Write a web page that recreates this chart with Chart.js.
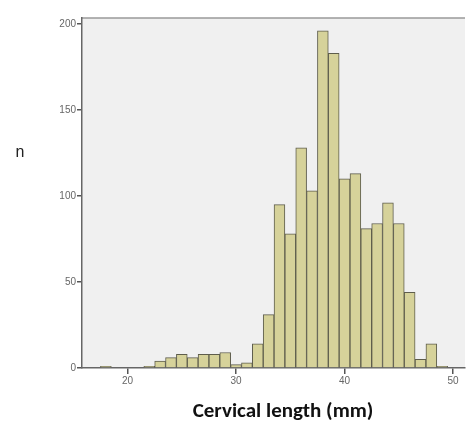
<!DOCTYPE html>
<html>
<head>
<meta charset="utf-8">
<script src="https://cdn.jsdelivr.net/npm/chart.js@4/dist/chart.umd.min.js"></script>
<style>
  html, body { margin: 0; padding: 0; background: #fff; }
  #wrap { width: 466px; height: 434px; }
</style>
</head>
<body>
<div id="wrap"><canvas id="cervix-chart"></canvas></div>
<script>
const bins = [18, 19, 20, 21, 22, 23, 24, 25, 26, 27, 28, 29, 30, 31, 32, 33,
  34, 35, 36, 37, 38, 39, 40, 41, 42, 43, 44, 45, 46, 47, 48, 49];
const counts = [1, 0, 0, 0, 1, 4, 6, 8, 6, 8, 8, 9, 2, 3, 14, 31,
  95, 78, 128, 103, 196, 183, 110, 113, 81, 84, 96, 84, 44, 5, 14, 1];
const xTicks = [20, 30, 40, 50];
const yTicks = [0, 50, 100, 150, 200];
const xTitle = "Cervical length (mm)";
const yTitle = "n";

// grey plot panel, top frame line, and the two axis titles (SPSS style)
const plotFrame = {
  id: "plotFrame",
  beforeDraw(chart) {
    const { ctx, chartArea: a } = chart;
    ctx.save();
    ctx.fillStyle = "#f0f0f0";
    ctx.fillRect(a.left, a.top, a.right - a.left, a.bottom - a.top);
    ctx.strokeStyle = "#9a9a9a";
    ctx.lineWidth = 1.5;
    ctx.beginPath();
    ctx.moveTo(a.left, a.top);
    ctx.lineTo(a.right, a.top);
    ctx.stroke();
    ctx.restore();
  },
  afterDraw(chart) {
    const { ctx } = chart;
    ctx.save();
    ctx.textAlign = "center";
    ctx.textBaseline = "middle";
    ctx.fillStyle = "#222";
    ctx.font = "16px Arial, 'Liberation Sans', sans-serif";
    ctx.fillText(yTitle, 20, 153);
    ctx.fillStyle = "#111";
    ctx.font = "bold 21px Calibri, Carlito, 'Open Sans', sans-serif";
    ctx.fillText(xTitle, 283, 412);
    ctx.restore();
  },
};

const ctx = document.getElementById("cervix-chart");

new Chart(ctx, {
  type: "bar",
  data: {
    datasets: [
      {
        data: bins.map((b, i) => ({ x: b, y: counts[i] })),
        backgroundColor: "#d6d29a",
        borderColor: "#5e5d4c",
        borderWidth: 1,
        barPercentage: 1,
        categoryPercentage: 1,
      },
    ],
  },
  options: {
    responsive: true,
    maintainAspectRatio: false,
    animation: false,
    layout: { padding: { top: 18, right: 1, left: 0, bottom: 0 } },
    plugins: {
      legend: { display: false },
      tooltip: { enabled: false },
    },
    scales: {
      x: {
        type: "linear",
        offset: false,
        min: 15.8,
        max: 51.1,
        afterBuildTicks: (s) => { s.ticks = xTicks.map((v) => ({ value: v })); },
        afterFit: (s) => { s.height = 66; },
        grid: { offset: false, drawOnChartArea: false, tickLength: 6, color: "#555", lineWidth: 1.5 },
        border: { color: "#666", width: 1.5 },
        ticks: { color: "#666", font: { size: 10, family: "Arial, 'Liberation Sans', sans-serif" }, padding: 1, maxRotation: 0 },
      },
      y: {
        min: 0,
        max: 203.5,
        afterBuildTicks: (s) => { s.ticks = yTicks.map((v) => ({ value: v })); },
        afterFit: (s) => { s.width = 82; },
        grid: { drawOnChartArea: false, tickLength: 5, color: "#555", lineWidth: 1.5 },
        border: { color: "#666", width: 1.5 },
        ticks: { color: "#666", font: { size: 10, family: "Arial, 'Liberation Sans', sans-serif" }, padding: 1 },
      },
    },
  },
  plugins: [plotFrame],
});
</script>
</body>
</html>
